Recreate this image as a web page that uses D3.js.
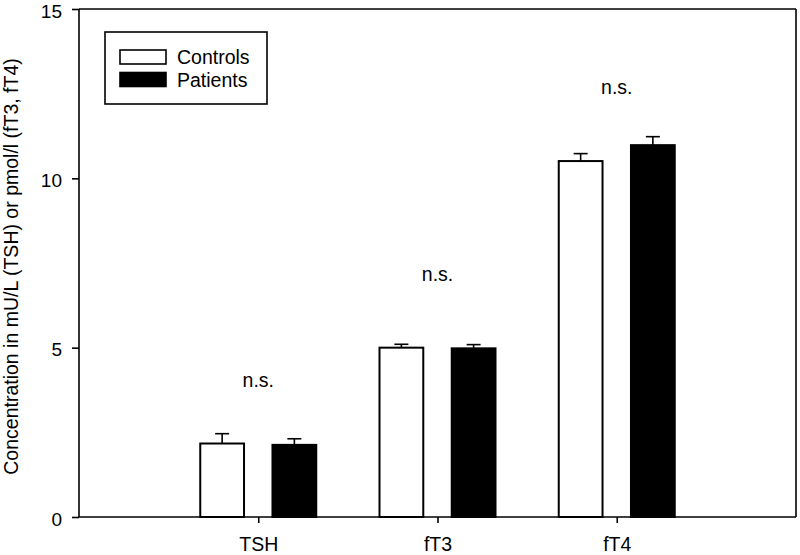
<!DOCTYPE html>
<html>
<head>
<meta charset="utf-8">
<script src="https://cdn.jsdelivr.net/npm/d3@7"></script>
<style>
  html, body { margin: 0; padding: 0; background: #fff; }
  svg { display: block; font-family: "Liberation Sans", Arial, sans-serif; }
</style>
</head>
<body>
<svg id="chart" width="800" height="555"></svg>
<script>
// ---- data ----
const categories = ["TSH", "fT3", "fT4"];
const seriesNames = ["Controls", "Patients"];
const controlsMean = [2.17, 5.00, 10.51];
const controlsErr  = [0.29, 0.10, 0.22];
const patientsMean = [2.13, 4.98, 10.98];
const patientsErr  = [0.18, 0.11, 0.25];
const sigLabels = ["n.s.", "n.s.", "n.s."];
const sigLevels = [3.83, 6.98, 12.5];
const yTicks = [0, 5, 10, 15];
const yLabel = "Concentration in mU/L (TSH) or pmol/l (fT3, fT4)";

// ---- layout ----
const W = 800, H = 555;
const m = { left: 79, top: 9, right: 4, bottom: 38 };
const iw = W - m.left - m.right, ih = H - m.top - m.bottom;
const FS = 19.5;

const svg = d3.select("#chart");
const g = svg.append("g").attr("transform", `translate(${m.left},${m.top})`);

const x = d3.scalePoint().domain(categories).range([0, iw]).padding(1);
const xs = d3.scaleBand().domain(seriesNames).range([-58, 58]).paddingInner(0.394).paddingOuter(0);
const y = d3.scaleLinear().domain([0, 15]).range([ih, 0]);

const fills = { Controls: "#ffffff", Patients: "#000000" };

const rows = [];
categories.forEach((c, i) => {
  rows.push({ cat: c, s: "Controls", v: controlsMean[i], e: controlsErr[i] });
  rows.push({ cat: c, s: "Patients", v: patientsMean[i], e: patientsErr[i] });
});

// frame (top and right)
g.append("line").attr("x1", 0).attr("x2", iw).attr("y1", 0).attr("y2", 0)
  .attr("stroke", "#000").attr("stroke-width", 1.6);
g.append("line").attr("x1", iw).attr("x2", iw).attr("y1", 0).attr("y2", ih)
  .attr("stroke", "#000").attr("stroke-width", 1.6);

// error bars
const eb = g.append("g");
rows.forEach(d => {
  const cx = x(d.cat) + xs(d.s) + xs.bandwidth() / 2;
  eb.append("line").attr("x1", cx).attr("x2", cx).attr("y1", y(d.v)).attr("y2", y(d.v + d.e))
    .attr("stroke", "#000").attr("stroke-width", 1.6);
  eb.append("line").attr("x1", cx - 7).attr("x2", cx + 7).attr("y1", y(d.v + d.e)).attr("y2", y(d.v + d.e))
    .attr("stroke", "#000").attr("stroke-width", 1.6);
});

// bars
g.append("g").selectAll("rect").data(rows).join("rect")
  .attr("x", d => x(d.cat) + xs(d.s))
  .attr("width", xs.bandwidth())
  .attr("y", d => y(d.v))
  .attr("height", d => y(0) - y(d.v))
  .attr("fill", d => fills[d.s])
  .attr("stroke", "#000")
  .attr("stroke-width", 2);

// axes
const yAxis = g.append("g").call(d3.axisLeft(y).tickValues(yTicks).tickSize(7).tickPadding(10).tickFormat(d3.format("d")));
const xAxis = g.append("g").attr("transform", `translate(0,${ih})`)
  .call(d3.axisBottom(x).tickSize(6).tickPadding(14));
[yAxis, xAxis].forEach(a => {
  a.select(".domain").attr("stroke", "#000").attr("stroke-width", 1.6);
  a.selectAll(".tick line").attr("stroke", "#000").attr("stroke-width", 1.6);
  a.selectAll(".tick text").attr("fill", "#000").style("font-size", FS + "px")
    .style("font-family", "'Liberation Sans', Arial, sans-serif");
});
yAxis.selectAll(".tick text").style("font-size", "19px").attr("dy", "0.43em");
// remove outer tick caps of domain path
yAxis.select(".domain").attr("d", `M0,${ih}V0`);
xAxis.select(".domain").attr("d", `M0,0H${iw}`);

// significance labels
g.append("g").selectAll("text").data(categories).join("text")
  .attr("x", d => x(d))
  .attr("y", (d, i) => y(sigLevels[i]))
  .attr("text-anchor", "middle")
  .style("font-size", FS + "px")
  .text((d, i) => sigLabels[i]);

// y label
svg.append("text")
  .attr("transform", `translate(18,${266.5}) rotate(-90)`)
  .attr("text-anchor", "middle")
  .style("font-size", FS + "px")
  .text(yLabel);

// legend
const lg = svg.append("g");
lg.append("rect").attr("x", 105).attr("y", 32).attr("width", 162).attr("height", 72)
  .attr("fill", "#fff").attr("stroke", "#000").attr("stroke-width", 1.6);
seriesNames.forEach((s, i) => {
  lg.append("rect").attr("x", 120).attr("y", 50 + i * 22.5).attr("width", 46).attr("height", 14)
    .attr("fill", fills[s]).attr("stroke", "#000").attr("stroke-width", 1.6);
  lg.append("text").attr("x", 177).attr("y", 64 + i * 23).style("font-size", FS + "px").text(s);
});
</script>
</body>
</html>
